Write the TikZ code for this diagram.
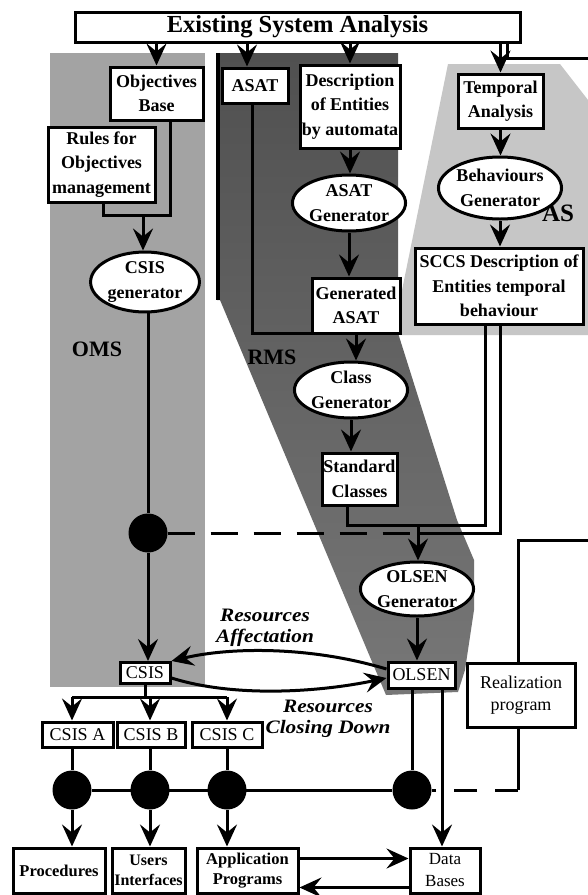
\documentclass[tikz,border=0pt]{standalone}
\usepackage{fontspec}
\setmainfont{Liberation Serif}
\usetikzlibrary{arrows.meta,shapes.geometric}

\definecolor{omsgray}{HTML}{A3A3A3}
\definecolor{rmstop}{HTML}{505050}
\definecolor{rmsbottom}{HTML}{777777}
\definecolor{asgray}{HTML}{C6C6C6}

\begin{document}
\begin{tikzpicture}[x=1pt,y=-1pt,
  box/.style={draw, line width=3pt, fill=white, align=center, inner sep=1pt,
              font=\bfseries\fontsize{18}{24.5}\selectfont},
  ebox/.style={box, ellipse},
  plainbox/.style={box, font=\fontsize{18}{22}\selectfont},
  dot/.style={circle, fill=black, minimum size=39pt, inner sep=0pt},
  wire/.style={line width=3pt},
  arr/.style={wire, -{Stealth[length=22pt,width=20pt,inset=8pt]}},
  dashwire/.style={wire, dash pattern=on 27pt off 16pt},
  region/.style={font=\bfseries\fontsize{22}{24}\selectfont},
  note/.style={font=\bfseries\itshape\fontsize{19}{21}\selectfont, align=center}
]
% canvas
\fill[white] (0,0) rectangle (588,895);
\useasboundingbox (0,0) rectangle (588,895);

% ---- the three subsystem areas ----
\fill[omsgray] (50,53) rectangle (205,687);
\shade[top color=rmstop, bottom color=rmsbottom]
  (217,53) -- (398,53) -- (398,333) -- (457,520) -- (474,560) -- (474,610)
  -- (465,670) -- (458,692) -- (386,695) -- (220,300) -- (217,300) -- cycle;
\draw[line width=3.5pt] (218,53) -- (218,300);
\fill[asgray] (448,64) -- (560,64) -- (588,100) -- (588,335) -- (400,335)
  -- (400,300) -- cycle;

\node[region] at (97,349) {OMS};
\node[region] at (272,357) {RMS};
\node[region, font=\bfseries\fontsize{25}{26}\selectfont] at (558,213) {AS};

% ---- nodes ----
\node[box, minimum width=445pt, minimum height=30pt,
      font=\bfseries\fontsize{24.5}{26}\selectfont] (top) at (297.5,27) {Existing System Analysis};

\node[box, minimum width=93pt, minimum height=53pt] (objbase) at (156.5,93.5) {Objectives\\Base};
\node[box, minimum width=107pt, minimum height=75pt] (rules) at (101.5,164.5) {Rules for\\Objectives\\management};
\node[ebox, minimum width=100pt, minimum height=55pt] (csisgen) at (145,282) {CSIS\\generator};

\node[box, minimum width=66pt, minimum height=35pt] (asat) at (255,85.5) {ASAT};
\node[box, minimum width=100pt, minimum height=83pt, inner sep=0pt] (descr) at (350,106.5) {Description\\of Entities\\by automata};
\node[ebox, minimum width=96pt, minimum height=56pt, inner sep=0pt] (asatgen) at (349,203) {ASAT\\Generator};
\node[box, minimum width=88pt, minimum height=55pt] (genasat) at (356,305.5) {Generated\\ASAT};
\node[ebox, minimum width=96pt, minimum height=56pt, inner sep=0pt] (classgen) at (351,390) {Class\\Generator};
\node[box, minimum width=75pt, minimum height=52pt, inner sep=0pt] (std) at (359.5,479) {Standard\\Classes};

\node[box, minimum width=85pt, minimum height=54pt] (temporal) at (500.5,101) {Temporal\\Analysis};
\node[ebox, minimum width=110pt, minimum height=62pt, inner sep=0pt] (behav) at (500,188) {Behaviours\\Generator};
\node[box, minimum width=168pt, minimum height=76pt, inner sep=0pt] (sccs) at (499,286) {SCCS Description of\\Entities temporal\\behaviour};

\node[ebox, minimum width=94pt, minimum height=54pt, inner sep=0pt] (olsengen) at (417,589) {OLSEN\\Generator};
\node[plainbox, minimum width=50pt, minimum height=21pt, inner sep=0pt] (csis) at (145,673) {CSIS};
\node[plainbox, minimum width=67pt, minimum height=26pt, inner sep=0pt] (olsen) at (421.5,675) {OLSEN};
\node[plainbox, minimum width=108pt, minimum height=64pt] (real) at (521,695) {Realization\\program};

\node[plainbox, minimum width=71pt, minimum height=25pt, inner sep=0pt] (csisA) at (77.5,734.5) {CSIS A};
\node[plainbox, minimum width=68pt, minimum height=25pt, inner sep=0pt] (csisB) at (151,734.5) {CSIS B};
\node[plainbox, minimum width=70pt, minimum height=25pt, inner sep=0pt] (csisC) at (227,734.5) {CSIS C};

\node[dot] (d0) at (148,533) {};
\node[dot] (dA) at (72,790) {};
\node[dot] (dB) at (150,790) {};
\node[dot] (dC) at (227,790) {};
\node[dot] (dD) at (412,790) {};

\node[box, minimum width=92pt, minimum height=45pt, inner sep=0pt,
      font=\bfseries\fontsize{16.5}{20}\selectfont] (proc) at (59,870.5) {Procedures};
\node[box, minimum width=73pt, minimum height=45pt, inner sep=0pt,
      font=\bfseries\fontsize{16}{20}\selectfont] (users) at (148.5,870.5) {Users\\Interfaces};
\node[box, minimum width=101pt, minimum height=45pt, inner sep=0pt,
      font=\bfseries\fontsize{16.5}{20}\selectfont] (app) at (247.5,870.5) {Application\\Programs};
\node[plainbox, minimum width=70pt, minimum height=45pt, inner sep=0pt,
      font=\fontsize{17}{22}\selectfont] (data) at (445,870.5) {Data\\Bases};

% ---- helper coordinates for routing ----
\coordinate (x247) at (247,0);
\coordinate (x252) at (252,0);
\coordinate (x170) at (170,0);
\coordinate (x103) at (103,0);
\coordinate (x347) at (347,0);
\coordinate (x485) at (485,0);
\coordinate (x500) at (500,0);
\coordinate (x442) at (442,0);
\coordinate (jOB) at (143,215);
\coordinate (jAS) at (357,333);
\coordinate (jSC) at (418,525);
\coordinate (jDS) at (418,533);
\coordinate (t1) at (507,58);
\coordinate (t2) at (588,58);
\coordinate (r1) at (518,540);
\coordinate (r2) at (588,540);
\coordinate (rc) at (518,790);
\coordinate (bus) at (0,697);

% ---- connectors from the analysis ----
\draw[arr] (top.south -| objbase.north) -- (objbase.north);
\draw[arr] (top.south -| x247) -- (x247 |- asat.north);
\draw[arr] (top.south -| descr.north) -- (descr.north);
\draw[arr] (top.south -| temporal.north) -- (temporal.north);
\draw[wire] (top.south -| t1) -- (t1) -- (t2);
\draw[wire] (real.north -| r1) -- (r1) -- (r2);

% OMS chain
\draw[wire] (objbase.south -| x170) -- (x170 |- jOB) -- (x103 |- jOB) -- (rules.south -| x103);
\draw[arr] (jOB) -- (jOB |- csisgen.north);
\draw[wire] (csisgen.south -| d0) -- (d0);
\draw[arr] (d0) -- (d0 |- csis.north);

% RMS chain
\draw[arr] (descr.south) -- (descr.south |- asatgen.north);
\draw[arr] (asatgen.south) -- (asatgen.south |- genasat.north);
\draw[wire] (asat.south -| x252) -- (x252 |- jAS) -- (jAS);
\draw[arr] (genasat.south) -- (genasat.south |- classgen.north);
\draw[arr] (classgen.south) -- (classgen.south |- std.north);

% AS chain
\draw[arr] (temporal.south) -- (temporal.south |- behav.north);
\draw[arr] (behav.south) -- (behav.south |- sccs.north);

% merge into the OLSEN generator
\draw[wire] (std.south -| x347) -- (x347 |- jSC) -- (x485 |- jSC) -- (sccs.south -| x485);
\draw[wire] (sccs.south -| x500) -- (x500 |- jDS) -- (jDS);
\draw[dashwire] (d0) -- (jDS);
\draw[arr] (jSC) -- (jSC |- olsengen.north);
\draw[arr] (olsengen.south) -- (olsengen.south |- olsen.north);

% resource exchange between CSIS and OLSEN
\draw[arr] ([yshift=6pt]olsen.west) .. controls (310,646) and (230,647) .. (csis.north east);
\draw[arr] ([yshift=-5pt]csis.east) .. controls (235,698) and (320,692) .. ([yshift=-3pt]olsen.west);
\node[note] (affect) at (265,628) {\scalebox{1.12}[1]{Resources}\\\scalebox{1.12}[1]{Affectation}};
\node[note] (closing) at (328,719) {\scalebox{1.12}[1]{Resources}\\\scalebox{1.12}[1]{Closing Down}};

% CSIS distribution
\draw[wire] (csis.south) -- (csis.south |- bus);
\draw[wire] (bus -| dA) -- (bus -| dC);
\draw[arr] (bus -| dA) -- (dA |- csisA.north);
\draw[arr] (bus -| dB) -- (dB |- csisB.north);
\draw[arr] (bus -| dC) -- (dC |- csisC.north);
\draw[wire] (dA |- csisA.south) -- (dA);
\draw[wire] (dB |- csisB.south) -- (dB);
\draw[wire] (dC |- csisC.south) -- (dC);
\draw[wire] (dA) -- (dD);
\draw[arr] (dA) -- (dA |- proc.north);
\draw[arr] (dB) -- (dB |- users.north);
\draw[arr] (dC) -- (dC |- app.north);

% OLSEN outputs
\draw[wire] (olsen.south -| dD) -- (dD);
\draw[arr] (olsen.south -| x442) -- (x442 |- data.north);
\draw[wire] (real.south -| rc) -- (rc);
\draw[dashwire, dash pattern=on 23pt off 18pt] (rc) -- (dD);

% application programs and data bases
\draw[arr] ([yshift=12pt]app.east) -- ([yshift=12pt]app.east -| data.west);
\draw[arr] ([yshift=-17pt]data.west) -- ([yshift=-17pt]data.west -| app.east);
\end{tikzpicture}
\end{document}
